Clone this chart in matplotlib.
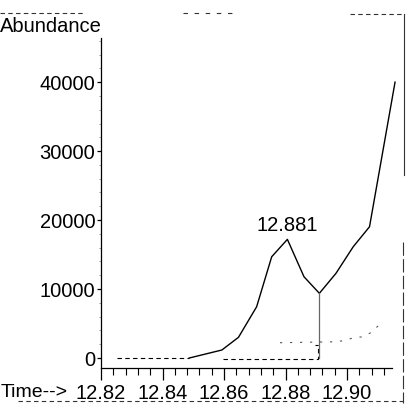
import matplotlib.pyplot as plt
from matplotlib.lines import Line2D
from matplotlib.ticker import MultipleLocator

# chromatogram trace
times = [12.8487, 12.8540, 12.8593, 12.8647, 12.8706, 12.8755, 12.8806,
         12.8860, 12.8910, 12.8964, 12.9020, 12.9073, 12.9156]
abundance = [0, 580, 1160, 3000, 7430, 14680, 17200,
             11780, 9380, 12280, 16130, 19030, 40000]

# flat dashed baseline before the peak
baseline_t = [12.8252, 12.8487]
baseline_v = [0, 0]

# faint dotted second trace
trace2_t = [12.8782, 12.8971, 12.9020, 12.9052, 12.9075, 12.9113]
trace2_v = [2220, 2360, 2900, 3090, 3620, 5120]

# integration markers
integ_t = [12.8597, 12.8906, 12.8906, 12.8896]
integ_v = [-150, -150, 1900, 1900]
split_t = 12.8910
split_v = 9380

peak_t = 12.8806
peak_v = 17200
peak_label = "12.881"

plt.rcParams['font.family'] = ['Liberation Sans', 'DejaVu Sans']

fig = plt.figure(figsize=(4.11, 4.11), dpi=100)
ax = fig.add_axes([0.2457, 0.1046, 0.708, 0.803])

ax.plot(times, abundance, color='black', lw=1.0, clip_on=False)
ax.plot(baseline_t, baseline_v, color='black', lw=0.8, ls=(0, (4, 3)))
ax.plot(trace2_t, trace2_v, color='#555555', lw=0.8, ls=(0, (2, 7)))
ax.plot(integ_t, integ_v, color='black', lw=0.8, ls=(0, (4, 3)))
ax.plot([split_t, split_t], [split_v, 0], color='#666666', lw=0.9)

ax.annotate(peak_label, (peak_t, peak_v), xytext=(0, 3), textcoords='offset points',
            ha='center', va='bottom', fontsize=14.5)

ax.set_xlim(12.82, 12.9146)
ax.set_ylim(-1450, 46400)
ax.spines['top'].set_visible(False)
ax.spines['right'].set_visible(False)
ax.spines['left'].set_linewidth(0.9)
ax.spines['bottom'].set_linewidth(0.9)

ax.set_xticks([12.82, 12.84, 12.86, 12.88, 12.90])
ax.set_xticklabels(['12.82', '12.84', '12.86', '12.88', '12.90'])
ax.xaxis.set_minor_locator(MultipleLocator(0.004))
ax.set_yticks([0, 10000, 20000, 30000, 40000])
ax.yaxis.set_minor_locator(MultipleLocator(2000))

ax.tick_params(axis='x', which='major', length=8.5, width=0.9, pad=3, labelsize=14.5)
ax.tick_params(axis='x', which='minor', length=5, width=0.8)
ax.tick_params(axis='y', which='major', length=3, width=0.9, pad=1, labelsize=14.5)
ax.tick_params(axis='y', which='minor', length=1.2, width=0.5, color='#777777')

fig.text(102 / 411, 1 - 26 / 411, 'Abundance', ha='right', va='center', fontsize=14.5)
fig.text(1 / 411, 1 - 392 / 411, 'Time-->', ha='left', va='center', fontsize=14)

# scan border remnants
def frame_line(xs, ys, **kw):
    fig.add_artist(Line2D([x / 411 for x in xs], [1 - y / 411 for y in ys],
                          transform=fig.transFigure, color='#333333', lw=0.8, **kw))

frame_line([0, 85], [13, 13], ls=(0, (4, 3)))
frame_line([183, 237], [13, 13], ls=(0, (4, 6)))
frame_line([350, 404], [14, 14], ls=(0, (4, 3)))
frame_line([404, 404], [14, 175])
frame_line([403, 403], [242, 403], ls=(0, (12, 3)))
frame_line([18, 403], [401, 401], ls=(0, (4, 3)))

fig.savefig('out.png', dpi=100)
